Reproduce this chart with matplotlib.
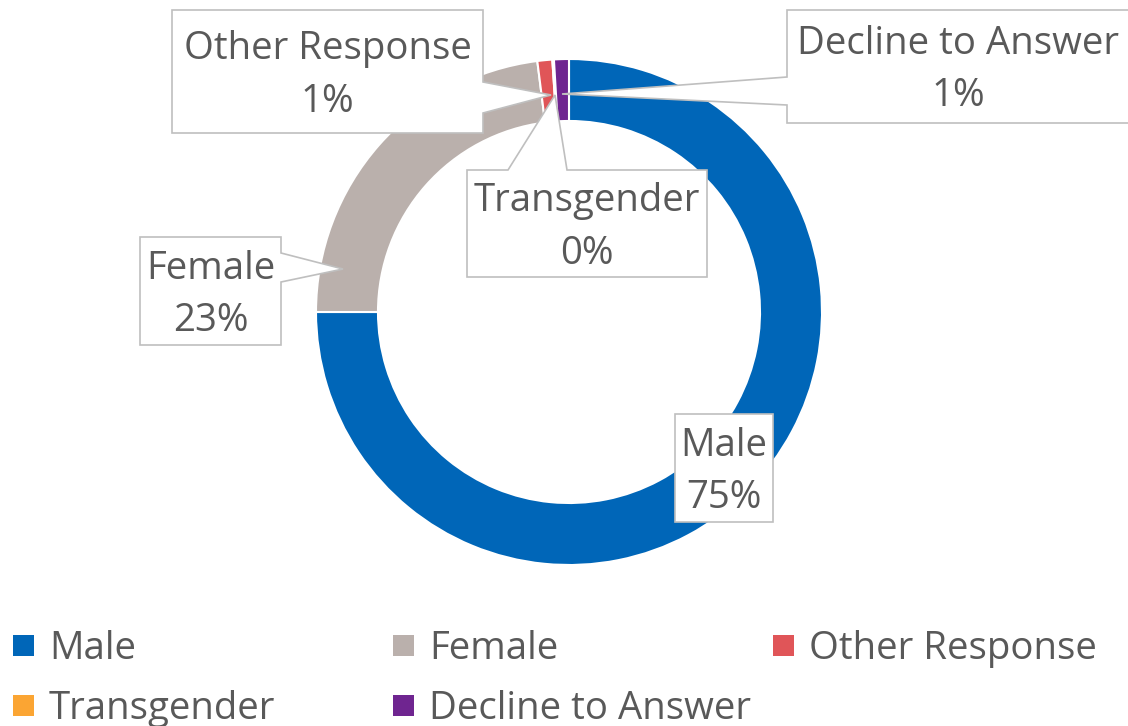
import matplotlib
matplotlib.use("Agg")
import matplotlib.pyplot as plt
from matplotlib.patches import Polygon, Rectangle

categories = ["Male", "Female", "Other Response", "Transgender", "Decline to Answer"]
shares = [75.0, 23.0, 0.95, 0.1, 0.95]
colors = ["#0066B8", "#BAB0AC", "#E05558", "#FBA533", "#6F2590"]

W, H = 1128, 726
TXT = "#595959"
EDGE = "#BFBFBF"
FONT = "Open Sans"
FS = 27.6

fig = plt.figure(figsize=(W / 100, H / 100), dpi=100)

# donut, centre (569, 312) px, radius 253 px
cx, cy, R = 569, 312, 253
ax = fig.add_axes([(cx - R) / W, (H - cy - R) / H, 2 * R / W, 2 * R / H])
ax.pie(shares, colors=colors, startangle=90, counterclock=False, radius=1,
       wedgeprops=dict(width=0.245, edgecolor="white", linewidth=1.5))
ax.set_xlim(-1, 1)
ax.set_ylim(-1, 1)
ax.set_axis_off()

# overlay in pixel coordinates (y down) for callouts and legend
ov = fig.add_axes([0, 0, 1, 1], zorder=5)
ov.set_xlim(0, W)
ov.set_ylim(H, 0)
ov.patch.set_alpha(0)
ov.set_axis_off()


def callout(box, side=None, base=None, tip=None):
    x0, y0, x1, y1 = box
    if side == "right":
        pts = [(x0, y0), (x1, y0), (x1, base[0]), tip, (x1, base[1]), (x1, y1), (x0, y1)]
    elif side == "left":
        pts = [(x0, y0), (x1, y0), (x1, y1), (x0, y1), (x0, base[1]), tip, (x0, base[0])]
    elif side == "top":
        pts = [(x0, y0), (base[0], y0), tip, (base[1], y0), (x1, y0), (x1, y1), (x0, y1)]
    else:
        pts = [(x0, y0), (x1, y0), (x1, y1), (x0, y1)]
    ov.add_patch(Polygon(pts, closed=True, facecolor="white", edgecolor=EDGE,
                         linewidth=1.2, joinstyle="miter"))


# label layout: box (x0, y0, x1, y1), pointer side, pointer base, pointer tip
layout = {
    "Male": ((675, 414, 773, 522), None, None, None),
    "Female": ((140, 237, 281, 345), "right", (253, 282), (343, 269)),
    "Other Response": ((172, 10, 483, 133), "right", (82, 113), (551, 95)),
    "Transgender": ((467, 170, 707, 277), "top", (508, 567), (555, 95)),
    "Decline to Answer": ((787, 10, 1140, 123), "left", (77, 105), (562, 94)),
}

for name, share in zip(categories, shares):
    box, side, base, tip = layout[name]
    callout(box, side, base, tip)
    xc = (box[0] + box[2]) / 2 if name != "Decline to Answer" else 958
    yc = (box[1] + box[3]) / 2
    ov.text(xc, yc - 12, name, ha="center", va="baseline", fontsize=FS,
            color=TXT, family=FONT)
    ov.text(xc, yc + 40, f"{share:.0f}%", ha="center", va="baseline", fontsize=FS,
            color=TXT, family=FONT)

# legend, three fixed-width columns
for i, (name, col) in enumerate(zip(categories, colors)):
    r, c = divmod(i, 3)
    x = 13 + 380 * c
    y = 635 + 60 * r
    ov.add_patch(Rectangle((x, y), 21, 21, facecolor=col, edgecolor="none"))
    ov.text(x + 36, y + 24, name, ha="left", va="baseline", fontsize=FS,
            color=TXT, family=FONT)

fig.savefig("out.png", dpi=100)
